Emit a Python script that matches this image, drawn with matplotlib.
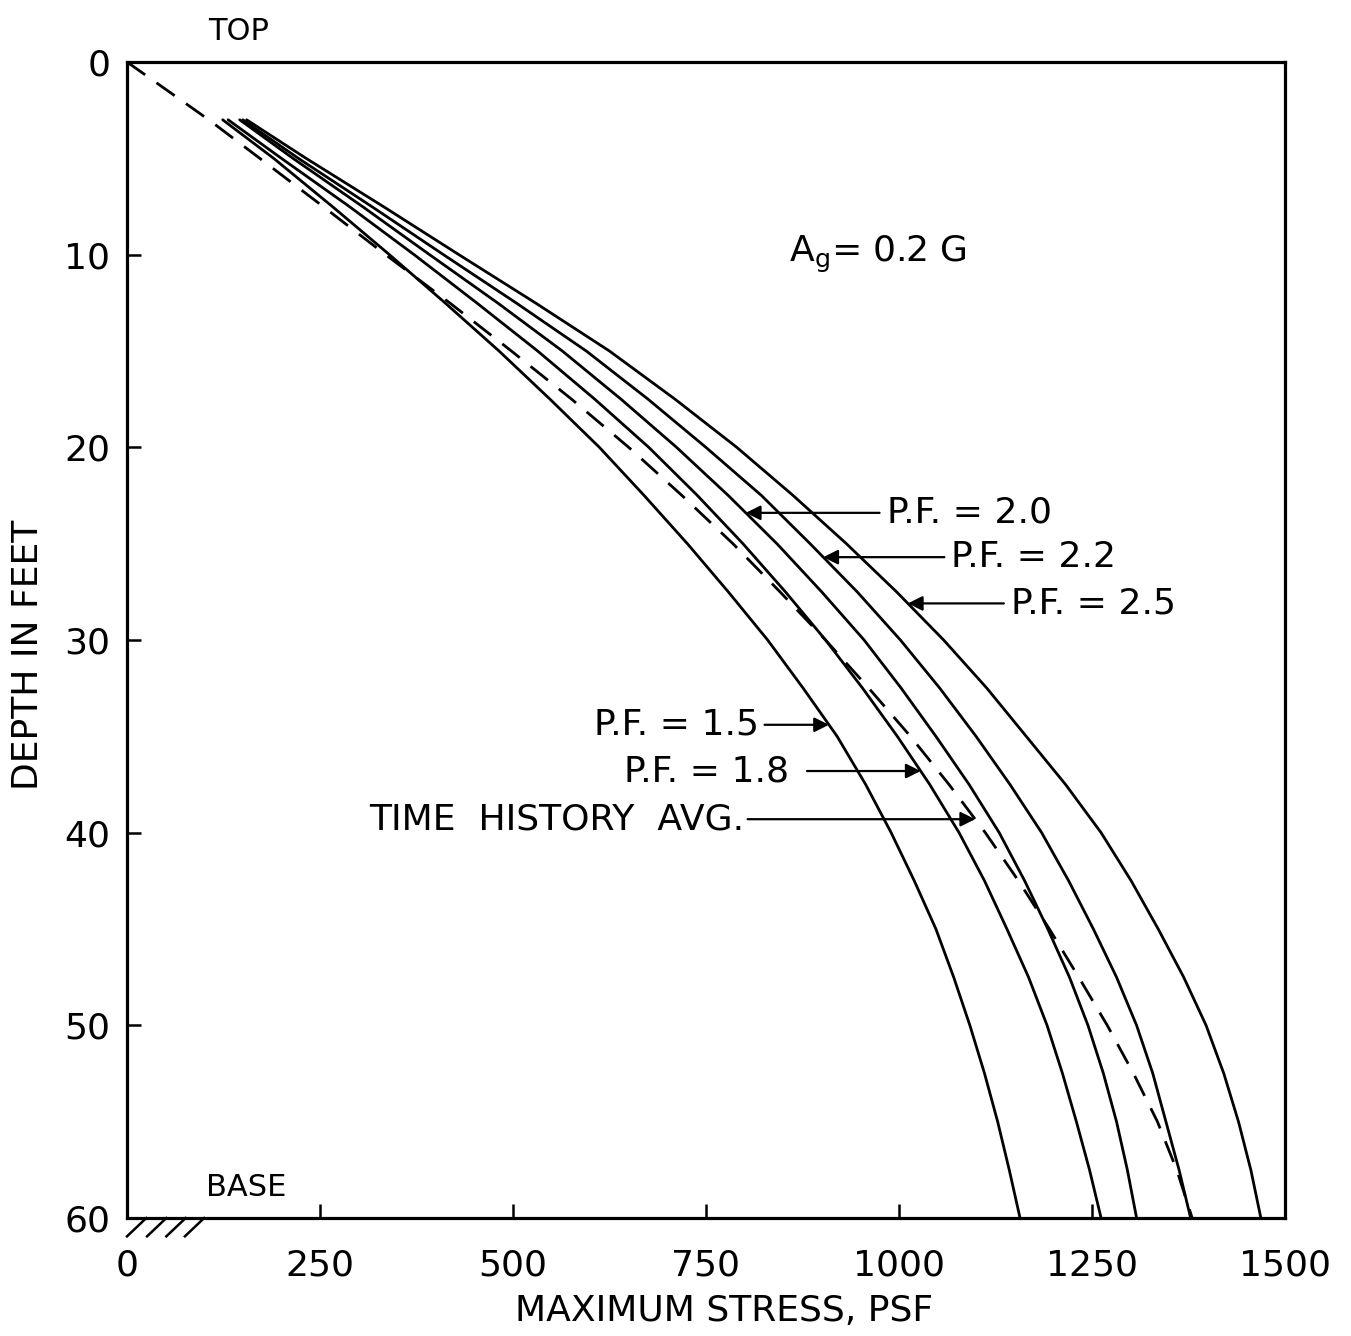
import numpy as np
import matplotlib
matplotlib.use("Agg")
import matplotlib.pyplot as plt

plt.rcParams['font.family'] = ['DejaVu Sans']

# depth in feet (top = 0) for the P.F. curves
depth = [3, 5, 7.5, 10, 12.5, 15, 17.5, 20, 22.5, 25, 27.5, 30,
         32.5, 35, 37.5, 40, 42.5, 45, 47.5, 50, 52.5, 55, 57.5, 60]
pf_15 = [124, 190, 266, 340, 412, 482, 548, 612, 670, 726, 779, 830,
         876, 920, 957, 990, 1020, 1048, 1071, 1092, 1111, 1128, 1143, 1157]
pf_18 = [131, 200, 288, 372, 453, 532, 606, 676, 739, 798, 853, 905,
         953, 998, 1040, 1078, 1111, 1140, 1168, 1192, 1212, 1230, 1247, 1262]
pf_20 = [146, 215, 305, 392, 480, 564, 640, 712, 779, 842, 900, 955,
         1003, 1048, 1091, 1130, 1163, 1193, 1221, 1245, 1265, 1282, 1296, 1308]
pf_22 = [150, 222, 317, 410, 504, 595, 675, 750, 822, 885, 946, 1002,
         1053, 1100, 1144, 1185, 1220, 1252, 1282, 1308, 1329, 1346, 1363, 1378]
pf_25 = [155, 232, 332, 430, 529, 625, 710, 790, 863, 932, 997, 1058,
         1114, 1165, 1216, 1262, 1301, 1336, 1369, 1398, 1421, 1440, 1456, 1469]

# time history average (dashed), starts at the surface
depth_th = [0, 3, 5, 7.5, 10, 12.5, 15, 17.5, 20, 22.5, 25, 27.5, 30,
            32.5, 35, 37.5, 40, 42.5, 45, 47.5, 50, 52.5, 55, 57.5, 60]
th_avg = [0, 106, 172, 254, 335, 418, 498, 576, 650, 719, 785, 846, 905,
          961, 1015, 1065, 1112, 1155, 1195, 1233, 1270, 1304, 1335, 1360, 1380]

x_ticks = [0, 250, 500, 750, 1000, 1250, 1500]
y_ticks = [0, 10, 20, 30, 40, 50, 60]

fig = plt.figure(figsize=(13.51, 13.36), dpi=100)
ax = fig.add_axes([0.094, 0.0883, 0.857, 0.8653])

lw = 2.0
for serie in [pf_15, pf_18, pf_20, pf_22, pf_25]:
    ax.plot(serie, depth, color='black', linewidth=lw,
            solid_capstyle='round', solid_joinstyle='round')
ax.plot(th_avg, depth_th, color='black', linewidth=lw, linestyle=(0, (8, 5)))

ax.set_xlim(0, 1500)
ax.set_ylim(60, 0)
ax.set_xticks(x_ticks)
ax.set_yticks(y_ticks)
ax.tick_params(direction='in', length=10, width=1.8, labelsize=26,
               top=False, right=False)
ax.tick_params(axis='y', pad=12)
ax.tick_params(axis='x', pad=22)
for sp in ax.spines.values():
    sp.set_linewidth(2.3)

ax.set_xlabel('MAXIMUM STRESS, PSF', fontsize=26)
ax.set_ylabel('DEPTH IN FEET', fontsize=26)
ax.xaxis.set_label_coords(0.516, -0.066)
ax.yaxis.set_label_coords(-0.071, 0.487)

# label with a horizontal arrow pointing at the curve
def arrow_label(txt, xs, ds, d, tx, tail, ha):
    tip = np.interp(d, ds, xs)
    ax.annotate('', xy=(tip, d), xytext=(tail, d),
                arrowprops=dict(arrowstyle='-|>', color='black', lw=1.6,
                                mutation_scale=22, shrinkA=0, shrinkB=0))
    ax.text(tx, d, txt, fontsize=26, ha=ha, va='center')

arrow_label('P.F. = 2.0', pf_20, depth, 23.4, 985, 975, 'left')
arrow_label('P.F. = 2.2', pf_22, depth, 25.7, 1068, 1059, 'left')
arrow_label('P.F. = 2.5', pf_25, depth, 28.1, 1145, 1136, 'left')
arrow_label('P.F. = 1.5', pf_15, depth, 34.4, 819, 826, 'right')
arrow_label('P.F. = 1.8', pf_18, depth, 36.8, 858, 881, 'right')
arrow_label('TIME  HISTORY  AVG.', th_avg, depth_th, 39.3, 800, 804, 'right')

ax.text(858, 10.0, r'A$_\mathregular{g}$= 0.2 G', fontsize=26, ha='left', va='center')
ax.text(144, -1.6, 'TOP', fontsize=22, ha='center', va='center', clip_on=False)
ax.text(154, 58.4, 'BASE', fontsize=22, ha='center', va='center')

# ground hatch under the base
for x0 in [0, 26, 51, 75]:
    ax.plot([x0, x0 + 25], [60.95, 60.0], color='black', linewidth=1.8,
            clip_on=False)

fig.savefig('out.png', dpi=100)
